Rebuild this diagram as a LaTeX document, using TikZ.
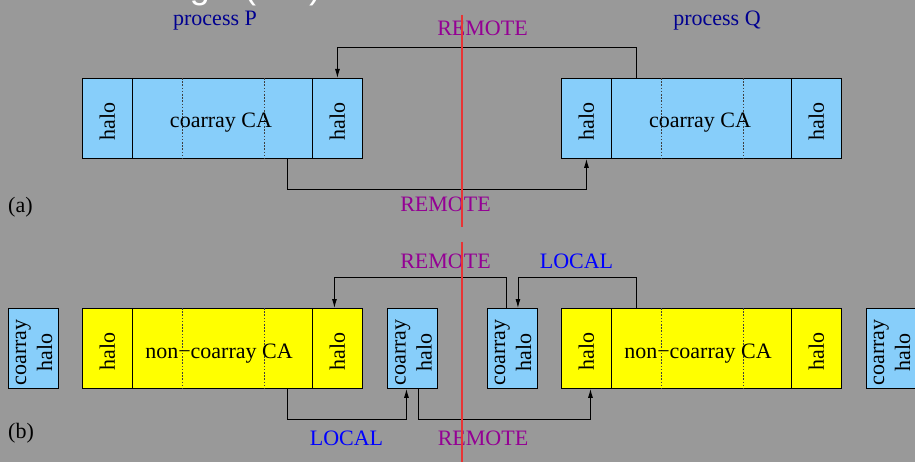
\documentclass[tikz,border=0pt]{standalone}
\usepackage{fontspec}
\setmainfont{Liberation Serif}
\newfontfamily\titlefont{Liberation Sans}
\usetikzlibrary{arrows.meta}
\definecolor{bggray}{RGB}{153,153,153}
\definecolor{haloblue}{RGB}{135,206,250}
\definecolor{arryellow}{RGB}{255,255,0}
\definecolor{remotepurple}{RGB}{148,0,148}
\definecolor{procblue}{RGB}{0,0,144}
\definecolor{localblue}{RGB}{0,0,255}
\definecolor{divred}{RGB}{232,52,52}
\begin{document}
\begin{tikzpicture}[x=1pt,y=-1pt,
  font=\fontsize{22}{25}\selectfont,
  cell/.style={draw=black, line width=0.9pt, inner sep=0pt, minimum height=80pt, anchor=north west},
  halocell/.style={cell, minimum width=50pt},
  midcell/.style={cell, minimum width=180pt},
  blue cell/.style={fill=haloblue},
  yellow cell/.style={fill=arryellow},
  vtext/.style={rotate=90, inner sep=0pt, align=center, font=\fontsize{22}{26}\selectfont},
  divider/.style={line width=0.8pt, dash pattern=on 1.6pt off 1.6pt, black!75},
  conn/.style={line width=0.9pt, black, -{Latex[length=9pt,width=5pt]}},
  remotelbl/.style={text=remotepurple, anchor=base, inner sep=0pt},
  locallbl/.style={text=localblue, anchor=base, inner sep=0pt},
  proclbl/.style={text=procblue, anchor=base, inner sep=0pt},
  partlbl/.style={text=black, anchor=base west, inner sep=0pt},
  midtext/.style={anchor=base, inner sep=0pt},
  titlefrag/.style={text=white, anchor=base, inner sep=0pt, font=\titlefont\fontsize{36}{40}\selectfont},
  redline/.style={draw=divred, line width=1.6pt}
]
\fill[bggray] (0,0) rectangle (915,462);
\useasboundingbox (0,0) rectangle (915,462);
\begin{scope}
\clip (0,0) rectangle (915,462);
\node[titlefrag] (tg) at (200,-1) {g};
\node[titlefrag] (tpl) at (250,-1) {(};
\node[titlefrag] (tpr) at (315,-1) {)};

% ---------- row (a) ----------
\node[halocell, blue cell] (PaL) at (82,78) {};
\node[midcell, blue cell] (PaC) at (132,78) {};
\node[halocell, blue cell] (PaR) at (312,78) {};
\node[halocell, blue cell] (QaL) at (561,78) {};
\node[midcell, blue cell] (QaC) at (611,78) {};
\node[halocell, blue cell] (QaR) at (791,78) {};
\foreach \n in {PaC,QaC} {
  \draw[divider] ([xshift=50pt]\n.north west) -- ([xshift=50pt]\n.south west);
  \draw[divider] ([xshift=-49pt]\n.north east) -- ([xshift=-49pt]\n.south east);
}
\node[midtext] (PaCt) at (221,128) {coarray CA};
\node[midtext] (QaCt) at (700,128) {coarray CA};
\node[vtext] (PaLt) at ([yshift=-3pt]PaL.center) {halo};
\node[vtext] (PaRt) at ([yshift=-3pt]PaR.center) {halo};
\node[vtext] (QaLt) at ([yshift=-3pt]QaL.center) {halo};
\node[vtext] (QaRt) at ([yshift=-3pt]QaR.center) {halo};

\node[proclbl] (procP) at (215,26) {process P};
\node[proclbl] (procQ) at (717,26) {process Q};
\node[partlbl] (lbla) at (8,213) {(a)};

\draw[conn] ([xshift=25pt]QaC.north west) |- ([yshift=31pt]PaR.north) -- (PaR.north);
\draw[conn] ([xshift=-25pt]PaC.south east) |- ([yshift=-31pt]QaL.south) -- (QaL.south);
\node[remotelbl] (ra1) at (482.5,36) {REMOTE};
\node[remotelbl] (ra2) at (445.5,212) {REMOTE};

% ---------- row (b) ----------
\node[halocell, blue cell] (B1) at (7.5,308) {};
\node[halocell, yellow cell] (PbL) at (82,308) {};
\node[midcell, yellow cell] (PbC) at (132,308) {};
\node[halocell, yellow cell] (PbR) at (312,308) {};
\node[halocell, blue cell] (B2) at (387,308) {};
\node[halocell, blue cell] (B3) at (486.5,308) {};
\node[halocell, yellow cell] (QbL) at (561,308) {};
\node[midcell, yellow cell] (QbC) at (611,308) {};
\node[halocell, yellow cell] (QbR) at (791,308) {};
\node[halocell, blue cell] (B4) at (865.5,308) {};
\foreach \n in {PbC,QbC} {
  \draw[divider] ([xshift=50pt]\n.north west) -- ([xshift=50pt]\n.south west);
  \draw[divider] ([xshift=-49pt]\n.north east) -- ([xshift=-49pt]\n.south east);
}
\node[midtext] (PbCt) at (219,358) {non\textminus coarray CA};
\node[midtext] (QbCt) at (698,358) {non\textminus coarray CA};
\node[vtext] (PbLt) at ([yshift=-3pt]PbL.center) {halo};
\node[vtext] (PbRt) at ([yshift=-3pt]PbR.center) {halo};
\node[vtext] (QbLt) at ([yshift=-3pt]QbL.center) {halo};
\node[vtext] (QbRt) at ([yshift=-3pt]QbR.center) {halo};
\foreach \n in {B1,B2,B3,B4} {
  \node[vtext] (\n t) at ([xshift=1pt,yshift=-4pt]\n.center) {coarray\\halo};
}
\node[partlbl] (lblb) at (8,438) {(b)};

\draw[conn] ([xshift=-25pt]PbC.south east) |- ([xshift=-6pt,yshift=-31pt]B2.south) -- ([xshift=-6pt]B2.south);
\draw[conn] ([xshift=6pt]B2.south) |- ([xshift=4pt,yshift=-31pt]QbL.south) -- ([xshift=4pt]QbL.south);
\draw[conn] ([xshift=-6pt]B3.north) |- ([xshift=-3pt,yshift=31pt]PbR.north) -- ([xshift=-3pt]PbR.north);
\draw[conn] ([xshift=25pt]QbC.north west) |- ([xshift=6pt,yshift=31pt]B3.north) -- ([xshift=6pt]B3.north);
\node[remotelbl] (rb1) at (445.5,269) {REMOTE};
\node[locallbl] (lb1) at (576.5,269) {LOCAL};
\node[locallbl] (lb2) at (346.5,445) {LOCAL};
\node[remotelbl] (rb2) at (483,445) {REMOTE};

% ---------- dividing line ----------
\draw[redline] (461.7,15) -- (461.7,227);
\draw[redline] (461.7,242) -- (461.7,462);
\end{scope}
\end{tikzpicture}
\end{document}
